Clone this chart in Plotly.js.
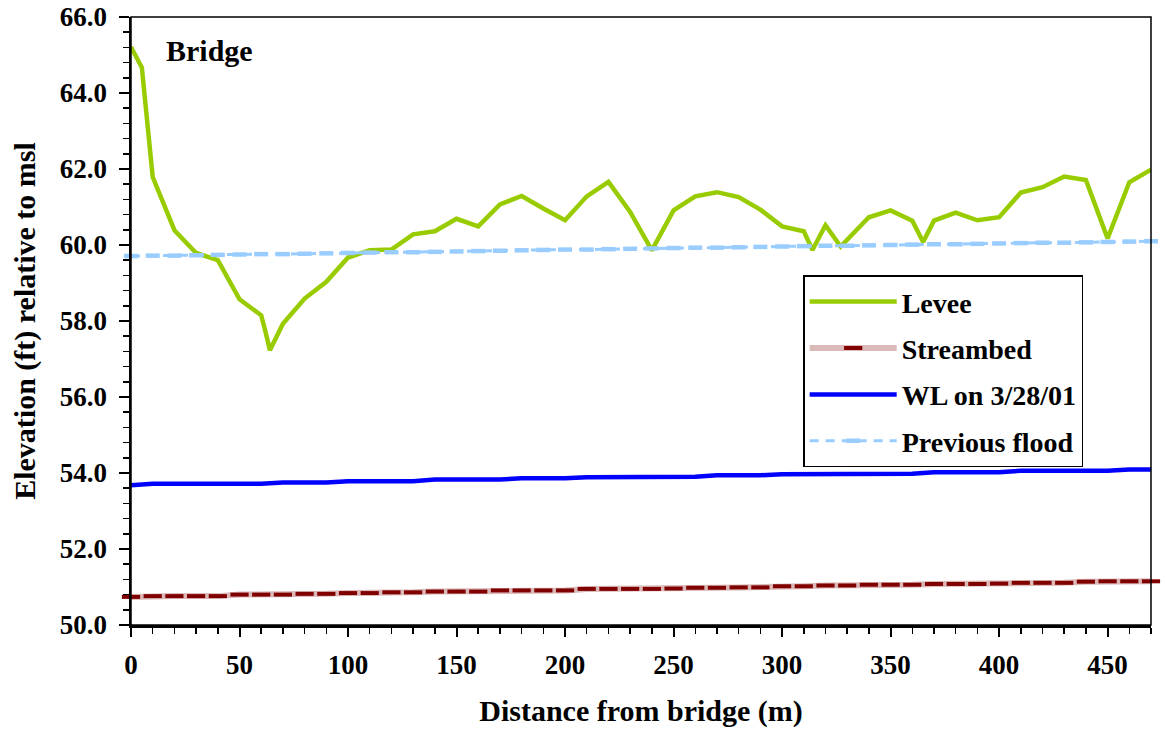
<!DOCTYPE html>
<html><head><meta charset="utf-8">
<script src="https://cdn.plot.ly/plotly-3.0.1.min.js"></script>
<style>html,body{margin:0;padding:0;background:#fff}#chart{width:1165px;height:729px}</style>
</head><body><div id="chart"></div>
<script>
// Levee survey points (distance m, elevation ft)
const leveeX = [0,5,10,20,30,40,50,60,62,64,70,80,90,100,110,120,130,140,150,160,170,180,190,200,210,220,230,240,250,260,270,280,290,300,310,314,320,327,340,350,360,365,370,380,390,400,410,420,430,440,450,460,470];
const leveeY = [65.21,64.67,61.79,60.39,59.79,59.60,58.57,58.15,57.71,57.23,57.93,58.59,59.03,59.67,59.86,59.88,60.28,60.36,60.69,60.49,61.07,61.29,60.96,60.65,61.28,61.66,60.87,59.86,60.91,61.28,61.39,61.26,60.93,60.49,60.36,59.87,60.52,59.96,60.73,60.91,60.64,60.08,60.64,60.85,60.65,60.73,61.38,61.52,61.80,61.71,60.17,61.65,61.98];

// Common 10 m stations for the other series
const dist = [0,10,20,30,40,50,60,70,80,90,100,110,120,130,140,150,160,170,180,190,200,210,220,230,240,250,260,270,280,290,300,310,320,330,340,350,360,370,380,390,400,410,420,430,440,450,460,470];
const streambed = [50.74,50.76,50.76,50.76,50.76,50.80,50.80,50.80,50.82,50.82,50.84,50.84,50.86,50.86,50.88,50.88,50.88,50.91,50.91,50.91,50.91,50.95,50.95,50.95,50.95,50.96,50.98,50.98,50.99,50.99,51.02,51.02,51.04,51.04,51.06,51.06,51.06,51.08,51.08,51.08,51.09,51.11,51.11,51.11,51.14,51.15,51.15,51.15];
const waterLevel = [53.68,53.72,53.72,53.72,53.72,53.72,53.72,53.75,53.75,53.75,53.78,53.78,53.78,53.78,53.83,53.83,53.83,53.83,53.86,53.86,53.86,53.89,53.89,53.89,53.89,53.89,53.90,53.94,53.94,53.94,53.97,53.97,53.97,53.97,53.98,53.98,53.98,54.02,54.02,54.02,54.02,54.06,54.06,54.06,54.06,54.06,54.09,54.09];
const prevFlood = [59.71,59.72,59.72,59.73,59.74,59.75,59.76,59.76,59.77,59.78,59.79,59.80,59.81,59.81,59.82,59.83,59.84,59.85,59.86,59.87,59.88,59.88,59.89,59.90,59.91,59.92,59.93,59.93,59.94,59.95,59.96,59.97,59.98,59.98,59.99,60.00,60.01,60.02,60.02,60.03,60.04,60.05,60.06,60.06,60.07,60.08,60.09,60.10];

const seriesNames = ['Levee','Streambed','WL on 3/28/01','Previous flood'];
const xTitle = 'Distance from bridge (m)';
const yTitle = 'Elevation (ft) relative to msl';
const noteText = 'Bridge';

const FONT = 'Liberation Serif, Times New Roman, serif';

const traces = [
  {x: leveeX, y: leveeY, name: seriesNames[0], legendgroup: 'g1', mode: 'lines',
   line: {color: '#99cc00', width: 4.5}},
  {x: dist, y: streambed, name: seriesNames[1], legendgroup: 'g2', mode: 'lines+markers', cliponaxis: false,
   line: {color: '#dcb9b9', width: 6},
   marker: {symbol: 'line-ew', size: 13, color: '#800000', line: {color: '#800000', width: 4}}},
  {x: dist, y: waterLevel, name: seriesNames[2], legendgroup: 'g3', mode: 'lines',
   line: {color: '#0000ff', width: 4.5}},
  {x: dist, y: prevFlood, name: seriesNames[3], legendgroup: 'g4', mode: 'lines+markers', cliponaxis: false,
   line: {color: '#99ccff', width: 3, dash: '9px,7px'},
   marker: {symbol: 'line-ew', size: 10, color: '#99ccff', line: {color: '#99ccff', width: 4.5}}}
];

const layout = {
  width: 1165, height: 729,
  margin: {l: 131, r: 14, t: 17, b: 104, pad: 0},
  paper_bgcolor: '#ffffff', plot_bgcolor: '#ffffff',
  font: {family: FONT, size: 27, color: '#000000', weight: 'bold'},
  showlegend: true,
  legend: {
    x: 0.659, y: 0.575, xanchor: 'left', yanchor: 'top',
    bgcolor: '#ffffff', bordercolor: '#000000', borderwidth: 1.5,
    font: {family: FONT, size: 28, color: '#000000', weight: 'bold'},
    itemwidth: 87, tracegroupgap: 7, traceorder: 'grouped'
  },
  xaxis: {
    range: [0, 470], tick0: 0, dtick: 50, tickformat: 'd',
    showgrid: false, zeroline: false,
    showline: true, linecolor: '#000000', linewidth: 2.5,
    ticks: 'outside', ticklen: 9, tickwidth: 2, tickcolor: '#000000',
    ticklabelstandoff: 5,
    minor: {dtick: 10, ticks: 'outside', ticklen: 6, tickwidth: 1.5, tickcolor: '#000000', showgrid: false},
    tickfont: {family: FONT, size: 27, color: '#000000', weight: 'bold'},
    title: {text: xTitle, standoff: 21, font: {family: FONT, size: 30, color: '#000000', weight: 'bold'}}
  },
  yaxis: {
    range: [50, 66], tick0: 50, dtick: 2, tickformat: '.1f',
    showgrid: false, zeroline: false,
    showline: true, linecolor: '#000000', linewidth: 2.5,
    ticks: 'outside', ticklen: 10, tickwidth: 2, tickcolor: '#000000',
    ticklabelstandoff: 6,
    minor: {dtick: 0.4, ticks: 'outside', ticklen: 6, tickwidth: 1.5, tickcolor: '#000000', showgrid: false},
    tickfont: {family: FONT, size: 27, color: '#000000', weight: 'bold'},
    title: {text: yTitle, standoff: 16, font: {family: FONT, size: 30, color: '#000000', weight: 'bold'}}
  },
  shapes: [
    {type: 'rect', xref: 'paper', yref: 'paper', x0: 0, x1: 1, y0: 0, y1: 1,
     line: {color: '#000000', width: 1.5}, fillcolor: 'rgba(0,0,0,0)', layer: 'above'}
  ],
  annotations: [
    {text: noteText, xref: 'paper', yref: 'paper', x: 0.032, y: 0.945, xanchor: 'left', yanchor: 'middle',
     showarrow: false, font: {family: FONT, size: 30, color: '#000000', weight: 'bold'}}
  ]
};

Plotly.newPlot('chart', traces, layout, {displayModeBar: false, staticPlot: true});
</script>
</body></html>
